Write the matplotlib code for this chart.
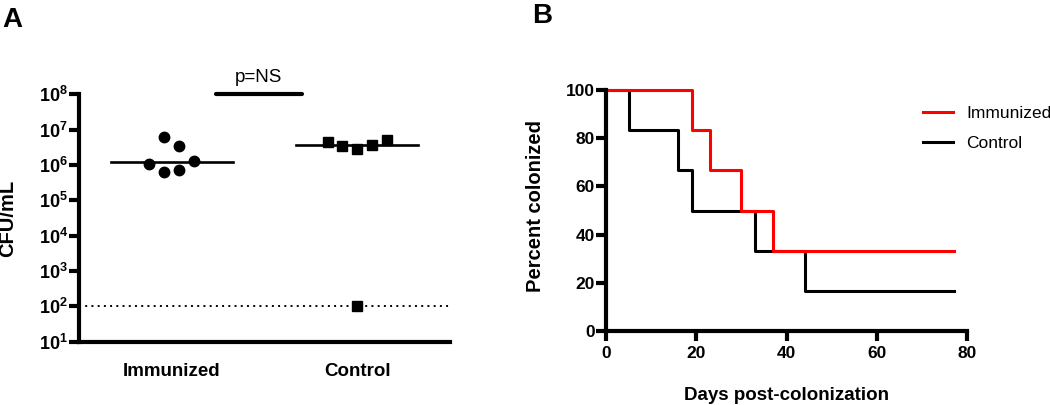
import numpy as np
import matplotlib
matplotlib.use("Agg")
import matplotlib.pyplot as plt

plt.rcParams['font.family'] = 'Liberation Sans'
plt.rcParams['mathtext.fontset'] = 'custom'
plt.rcParams['mathtext.rm'] = 'Liberation Sans'
plt.rcParams['mathtext.bf'] = 'Liberation Sans:bold'
plt.rcParams['mathtext.default'] = 'bf'

# Panel A: CFU/mL per animal
groups = ['Immunized', 'Control']
imm_cfu = [6.1e6, 3.5e6, 1.1e6, 1.3e6, 6.2e5, 7.2e5]
ctrl_cfu = [4.4e6, 3.5e6, 2.8e6, 3.7e6, 5.1e6, 1e2]
detection_limit = 1e2
y_ticks_a = [1e1, 1e2, 1e3, 1e4, 1e5, 1e6, 1e7, 1e8]
y_ticklabels_a = [r'$10^{%d}$' % k for k in range(1, 9)]

# Panel B: Kaplan-Meier style curves
imm_days = [0, 19, 23, 30, 37, 77]
imm_pct = [100, 83.3, 66.7, 50, 33.3, 33.3]
ctrl_days = [0, 5, 16, 19, 33, 44, 77]
ctrl_pct = [100, 83.3, 66.7, 50, 33.3, 16.7, 16.7]

# scatter offsets (layout only)
imm_off = [-0.04, 0.04, -0.12, 0.12, -0.04, 0.04]
ctrl_off = [-0.16, -0.08, 0.0, 0.08, 0.16, 0.0]

fig = plt.figure(figsize=(10.5, 4.05), dpi=100)
axA = fig.add_axes([79 / 1050, 1 - 341.7 / 405, 371 / 1050, 247.4 / 405])
axB = fig.add_axes([606 / 1050, 1 - 331 / 405, 361.2 / 1050, 241 / 405])

SPINE_W = 3.0

# ---- Panel A ----
xi, xc = 1, 2
axA.plot(np.array(imm_off) + xi, imm_cfu, 'o', color='black', ms=7.5, zorder=3)
axA.plot(np.array(ctrl_off) + xc, ctrl_cfu, 's', color='black', ms=7, zorder=3)
for x0, vals in [(xi, imm_cfu), (xc, ctrl_cfu)]:
    axA.plot([x0 - 0.33, x0 + 0.33], [np.median(vals)] * 2, color='black', lw=1.9, zorder=2)
axA.axhline(detection_limit, color='black', lw=1.4, ls=(0, (1, 2.2)), zorder=1)

axA.set_yscale('log')
axA.set_ylim(1e1, 1e8)
axA.set_xlim(0.5, 2.5)
axA.set_yticks(y_ticks_a)
axA.set_yticklabels(y_ticklabels_a, fontsize=13)
axA.yaxis.set_minor_locator(matplotlib.ticker.NullLocator())
axA.set_xticks([xi, xc])
axA.set_xticklabels(groups, fontsize=13.5, fontweight='bold')
axA.tick_params(axis='x', length=0, pad=15)
axA.tick_params(axis='y', length=7, width=SPINE_W, pad=1)
for s in ['top', 'right']:
    axA.spines[s].set_visible(False)
for s in ['left', 'bottom']:
    axA.spines[s].set_linewidth(SPINE_W)
axA.set_ylabel('CFU/mL', fontsize=14.5, fontweight='bold')
axA.yaxis.set_label_coords(-0.167, 0.5)

# significance bar
axA.plot([1.24, 1.70], [1e8, 1e8], color='black', lw=3, clip_on=False, solid_capstyle='round')
axA.annotate('p=NS', xy=(1.47, 1e8), xytext=(0, 6), textcoords='offset points',
             ha='center', va='bottom', fontsize=13.5)

# ---- Panel B ----
axB.step(ctrl_days, ctrl_pct, where='post', color='black', lw=2.2, label='Control', clip_on=False)
axB.step(imm_days, imm_pct, where='post', color='#ff0000', lw=2.2, label='Immunized', clip_on=False)
axB.set_xlim(0, 80)
axB.set_ylim(0, 100)
axB.set_xticks([0, 20, 40, 60, 80])
axB.set_yticks([0, 20, 40, 60, 80, 100])
for lab in axB.get_xticklabels() + axB.get_yticklabels():
    lab.set_fontweight('bold')
    lab.set_fontsize(12.5)
axB.tick_params(axis='x', length=7, width=SPINE_W, pad=4)
axB.tick_params(axis='y', length=7, width=SPINE_W, pad=1)
for s in ['top', 'right']:
    axB.spines[s].set_visible(False)
for s in ['left', 'bottom']:
    axB.spines[s].set_linewidth(SPINE_W)
axB.set_ylabel('Percent colonized', fontsize=14.5, fontweight='bold')
axB.yaxis.set_label_coords(-0.169, 0.52)
axB.set_xlabel('Days post-colonization', fontsize=13.5, fontweight='bold')
axB.xaxis.set_label_coords(0.5, -0.232)

handles, labels = axB.get_legend_handles_labels()
axB.legend(handles[::-1], labels[::-1], loc='upper left', bbox_to_anchor=(0.878, 0.935),
           frameon=False, fontsize=12.5, handlelength=1.7, handletextpad=0.8,
           labelspacing=0.85, borderpad=0, borderaxespad=0)

fig.text(12 / 1050, 1 - 27 / 405, 'A', fontsize=20, fontweight='bold', ha='center', va='baseline')
fig.text(542 / 1050, 1 - 23 / 405, 'B', fontsize=20, fontweight='bold', ha='center', va='baseline')

fig.savefig('out.png', dpi=100)
